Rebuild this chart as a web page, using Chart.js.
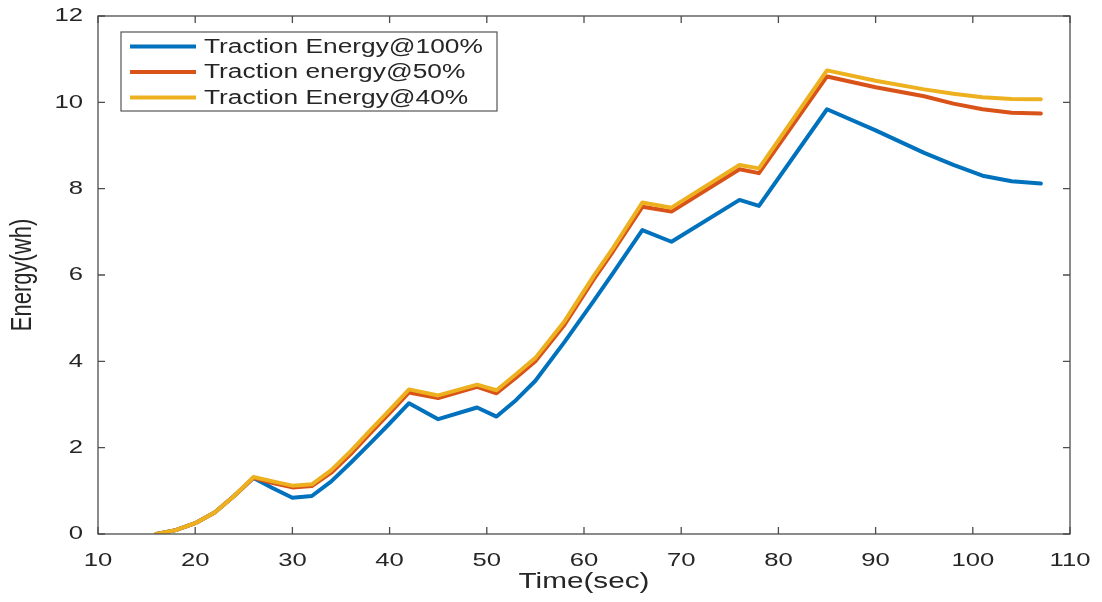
<!DOCTYPE html>
<html>
<head>
<meta charset="utf-8">
<script src="https://cdn.jsdelivr.net/npm/chart.js@4"></script>
<style>
  html, body { margin: 0; padding: 0; background: #fff; }
  #wrap { width: 1102px; height: 602px; }
</style>
</head>
<body>
<div id="wrap"><canvas id="energyChart" width="1102" height="602"></canvas></div>
<script>
// time samples (sec) shared by all three runs
const timeSec = [16, 18, 20, 22, 24, 26, 28, 30, 32, 34, 36, 38, 40, 42, 45, 49, 51, 53, 55, 58, 61, 63, 66, 69, 76, 78, 85, 90, 95, 98, 101, 104, 107];

// traction energy (wh)
const energy100 = [0, 0.09, 0.25, 0.5, 0.88, 1.3, 1.06, 0.84, 0.88, 1.22, 1.65, 2.1, 2.56, 3.03, 2.66, 2.93, 2.72, 3.1, 3.55, 4.45, 5.4, 6.05, 7.04, 6.77, 7.74, 7.6, 9.84, 9.35, 8.83, 8.55, 8.3, 8.17, 8.12];
const energy50 = [0, 0.09, 0.25, 0.5, 0.88, 1.3, 1.18, 1.08, 1.11, 1.42, 1.85, 2.33, 2.8, 3.28, 3.15, 3.41, 3.26, 3.62, 4.0, 4.85, 5.9, 6.55, 7.58, 7.47, 8.45, 8.36, 10.6, 10.35, 10.14, 9.97, 9.84, 9.76, 9.74];
const energy40 = [0, 0.09, 0.25, 0.5, 0.88, 1.32, 1.22, 1.12, 1.15, 1.48, 1.92, 2.4, 2.87, 3.35, 3.21, 3.46, 3.33, 3.7, 4.08, 4.93, 5.98, 6.63, 7.68, 7.56, 8.55, 8.47, 10.74, 10.5, 10.3, 10.2, 10.12, 10.08, 10.07];

const seriesLabels = ["Traction Energy@100%", "Traction energy@50%", "Traction Energy@40%"];
const xTicks = [10, 20, 30, 40, 50, 60, 70, 80, 90, 100, 110];
const yTicks = [0, 2, 4, 6, 8, 10, 12];

const colors = ["#0072BD", "#D95319", "#EDB120"];
const FONT = "'Liberation Sans', Arial, Helvetica, sans-serif";
const TEXT_COLOR = "#262626";
const AXIS_COLOR = "#4d4d4d";
const SX = 1.35; // the figure text is wide, stretch glyphs horizontally

const canvas = document.getElementById("energyChart");
const ctx = canvas.getContext("2d");

// horizontal stretch of every text draw, around its anchor point
const origFillText = ctx.fillText.bind(ctx);
ctx.fillText = function(text, x, y, maxWidth) {
    const m = ctx.getTransform();
    const p = m.transformPoint(new DOMPoint(x, y));
    const s = new DOMMatrix().translate(p.x, p.y).scale(SX, 1).translate(-p.x, -p.y).multiply(m);
    ctx.setTransform(s);
    if (maxWidth === undefined) origFillText(text, x, y);
    else origFillText(text, x, y, maxWidth);
    ctx.setTransform(m);
};

function toPoints(values) {
    return values.map((v, i) => ({ x: timeSec[i], y: v }));
}

// axes box with inward ticks on all four sides
const boxPlugin = {
    id: "boxAxes",
    afterDatasetsDraw(chart) {
        const { ctx, chartArea: a, scales } = chart;
        const len = 7;
        ctx.save();
        ctx.strokeStyle = AXIS_COLOR;
        ctx.lineWidth = 1.3;
        ctx.strokeRect(a.left, a.top, a.right - a.left, a.bottom - a.top);
        ctx.beginPath();
        xTicks.forEach(v => {
            const px = scales.x.getPixelForValue(v);
            ctx.moveTo(px, a.bottom); ctx.lineTo(px, a.bottom - len);
            ctx.moveTo(px, a.top); ctx.lineTo(px, a.top + len);
        });
        yTicks.forEach(v => {
            const py = scales.y.getPixelForValue(v);
            ctx.moveTo(a.left, py); ctx.lineTo(a.left + len, py);
            ctx.moveTo(a.right, py); ctx.lineTo(a.right - len, py);
        });
        ctx.stroke();
        ctx.restore();
    }
};

// boxed legend in the upper left corner of the plot
const legendPlugin = {
    id: "insetLegend",
    afterDraw(chart) {
        const { ctx } = chart;
        const box = { x: 121, y: 32, w: 376, h: 79 };
        ctx.save();
        ctx.fillStyle = "#fff";
        ctx.fillRect(box.x, box.y, box.w, box.h);
        ctx.strokeStyle = "#555";
        ctx.lineWidth = 1.2;
        ctx.strokeRect(box.x, box.y, box.w, box.h);
        ctx.font = "19.5px " + FONT;
        ctx.textBaseline = "middle";
        ctx.textAlign = "left";
        chart.data.datasets.forEach((ds, i) => {
            const y = box.y + 14.5 + i * 25.5;
            ctx.strokeStyle = ds.borderColor;
            ctx.lineWidth = 4;
            ctx.beginPath();
            ctx.moveTo(130, y);
            ctx.lineTo(196, y);
            ctx.stroke();
            ctx.fillStyle = TEXT_COLOR;
            ctx.fillText(ds.label, 204, y + 1);
        });
        ctx.restore();
    }
};

new Chart(ctx, {
    type: "line",
    data: {
        datasets: [
            { label: seriesLabels[0], data: toPoints(energy100), borderColor: colors[0], order: 2 },
            { label: seriesLabels[1], data: toPoints(energy50), borderColor: colors[1], order: 1 },
            { label: seriesLabels[2], data: toPoints(energy40), borderColor: colors[2], order: 0 }
        ]
    },
    options: {
        responsive: false,
        animation: false,
        layout: { padding: { top: 16, right: 32, left: 0, bottom: 0 } },
        elements: {
            line: { borderWidth: 4, tension: 0, borderJoinStyle: "round", borderCapStyle: "round", fill: false },
            point: { radius: 0 }
        },
        plugins: {
            legend: { display: false },
            tooltip: { enabled: false }
        },
        scales: {
            x: {
                type: "linear",
                min: 10, max: 110,
                afterFit: s => { s.height = 68; s.paddingLeft = 0; s.paddingRight = 0; },
                afterBuildTicks: s => { s.ticks = xTicks.map(v => ({ value: v })); },
                grid: { display: false, drawTicks: false },
                border: { display: false },
                ticks: { color: TEXT_COLOR, font: { family: FONT, size: 19 }, padding: 15, maxRotation: 0 },
                title: { display: true, text: "Time(sec)", color: TEXT_COLOR, font: { family: FONT, size: 22 }, padding: { top: 0, bottom: 7 } }
            },
            y: {
                min: 0, max: 12,
                afterFit: s => { s.width = 98; s.paddingTop = 0; s.paddingBottom = 0; },
                afterBuildTicks: s => { s.ticks = yTicks.map(v => ({ value: v })); },
                grid: { display: false, drawTicks: false },
                border: { display: false },
                ticks: { color: TEXT_COLOR, font: { family: FONT, size: 19 }, padding: 15 },
                title: { display: true, text: "Energy(wh)", color: TEXT_COLOR, font: { family: FONT, size: 22 }, padding: { top: 10, bottom: 0 } }
            }
        }
    },
    plugins: [boxPlugin, legendPlugin]
});
</script>
</body>
</html>
